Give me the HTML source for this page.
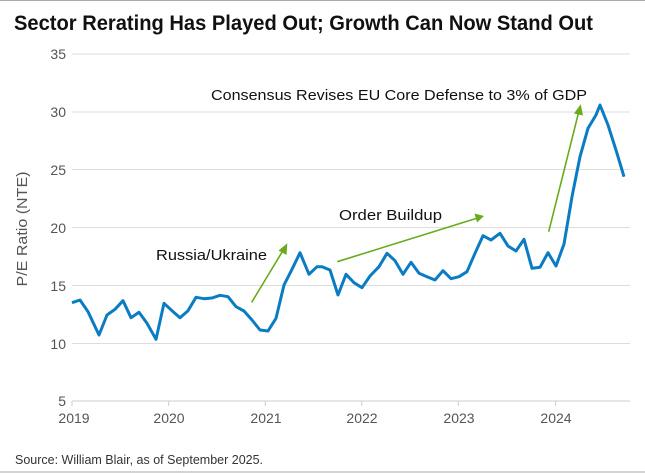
<!DOCTYPE html>
<html><head><meta charset="utf-8"><style>
html,body{margin:0;padding:0;background:#fff}
svg{display:block}
text{font-family:"Liberation Sans",sans-serif}
</style></head><body>
<svg width="645" height="473" viewBox="0 0 645 473" xmlns="http://www.w3.org/2000/svg">
<line x1="0" y1="0.5" x2="645" y2="0.5" stroke="#aaa" stroke-width="1"/>
<line x1="0" y1="472" x2="645" y2="472" stroke="#aaa" stroke-width="1"/>
<text x="14" y="30" font-size="21" font-weight="bold" fill="#111" textLength="579" lengthAdjust="spacingAndGlyphs">Sector Rerating Has Played Out; Growth Can Now Stand Out</text>
<g stroke="#ddd" stroke-width="1">
<line x1="72" y1="54" x2="630" y2="54"/>
<line x1="72" y1="112" x2="630" y2="112"/>
<line x1="72" y1="169.5" x2="630" y2="169.5"/>
<line x1="72" y1="227.5" x2="630" y2="227.5"/>
<line x1="72" y1="285.5" x2="630" y2="285.5"/>
<line x1="72" y1="343.5" x2="630" y2="343.5"/>
</g>
<line x1="72" y1="401" x2="630" y2="401" stroke="#ccc"/>
<g stroke="#ccc"><line x1="72" y1="401" x2="72" y2="406"/><line x1="168.7" y1="401" x2="168.7" y2="406"/><line x1="265.3" y1="401" x2="265.3" y2="406"/><line x1="361.7" y1="401" x2="361.7" y2="406"/><line x1="458.3" y1="401" x2="458.3" y2="406"/><line x1="555.7" y1="401" x2="555.7" y2="406"/></g>
<g font-size="14" fill="#555" text-anchor="end">
<text x="66" y="59">35</text><text x="66" y="117">30</text><text x="66" y="175">25</text><text x="66" y="233">20</text><text x="66" y="291">15</text><text x="66" y="349">10</text><text x="66" y="406">5</text>
</g>
<g font-size="14" fill="#555" text-anchor="middle">
<text x="74" y="423">2019</text><text x="169" y="423">2020</text><text x="266" y="423">2021</text><text x="362" y="423">2022</text><text x="459" y="423">2023</text><text x="556" y="423">2024</text>
</g>
<text transform="translate(27,229) rotate(-90)" font-size="15" fill="#555" text-anchor="middle" textLength="115" lengthAdjust="spacingAndGlyphs">P/E Ratio  (NTE)</text>
<text x="15" y="464" font-size="12.5" fill="#333">Source: William Blair, as of September 2025.</text>
<polyline fill="none" stroke="#0a7cc4" stroke-width="3" stroke-linejoin="round" points="72,302.7 80,300 88,311.7 99,335 107,315 115,309.3 123,300.7 131,317.7 139,312.3 147,323.3 156,339.3 164,303.3 172,310.7 180,317.7 188,310.7 196,297.3 204,298.7 212,298 220,295.3 228,296.7 236,306.7 244,311 252,320 260,330 268,331 276,318.3 284,285 292,269.3 300,252.7 309,274.3 317,266.7 322,266.7 330,270 338,295 346,274.3 354,282.7 362,287.7 370,276 379,266.7 387,253.3 395,260.7 403,274.3 411,262.3 419,273.3 427,276.7 435,280 443,270.7 451,278.7 459,276.7 467,271.7 475,253.3 483,235.7 491,240 500,233.3 508,246 516,251 524,239.3 532,268.3 540,267.3 548,252.7 556,266 564,244 572,196.7 580,156.7 588,128.3 596,115 600,105 608,125 617,153.3 624,176.7"/>
<g stroke="#6aaa1e" stroke-width="1.6" fill="#6aaa1e">
<line x1="251.7" y1="302.3" x2="283" y2="250.5"/>
<polygon points="287.3,243.3 278.5,250.5 286.5,255" stroke="none"/>
<line x1="337.3" y1="261.7" x2="476" y2="218.5"/>
<polygon points="484,216 474.5,213.5 477,222.5" stroke="none"/>
<line x1="548.7" y1="231.7" x2="578.6" y2="112.5"/>
<polygon points="580.7,104.3 574,113.5 583,115.5" stroke="none"/>
</g>
<g font-size="15" fill="#111">
<text x="156" y="260" textLength="111" lengthAdjust="spacingAndGlyphs">Russia/Ukraine</text>
<text x="339" y="220" textLength="103" lengthAdjust="spacingAndGlyphs">Order Buildup</text>
<text x="211" y="100" textLength="376" lengthAdjust="spacingAndGlyphs">Consensus Revises EU Core Defense to 3% of GDP</text>
</g>
</svg>
</body></html>
